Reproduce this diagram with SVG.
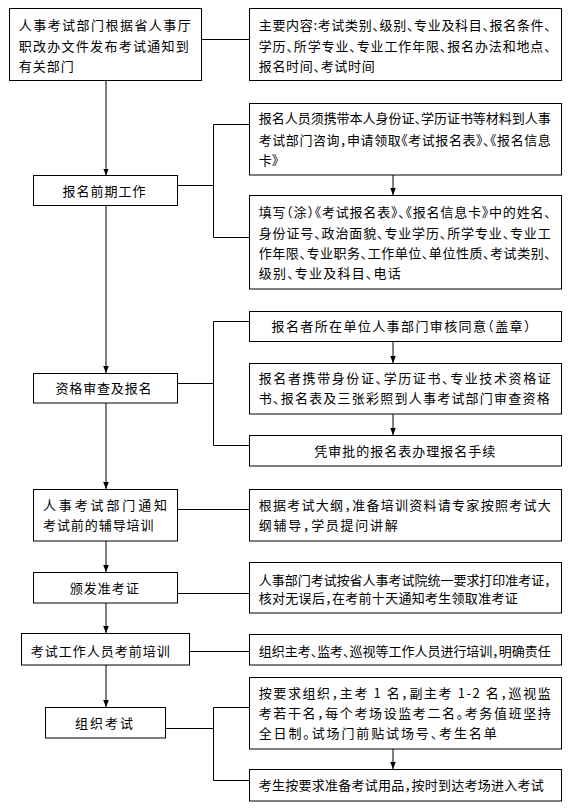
<svg xmlns="http://www.w3.org/2000/svg" width="588" height="811" viewBox="0 0 588 811">
<style>
rect.box{fill:#fff;stroke:#000;stroke-width:1}
.conn path,.conn line{fill:none;stroke:#000;stroke-width:1}
text{font-family:"Noto Sans CJK SC","Noto Sans",sans-serif;font-size:13px;fill:#000;font-feature-settings:"halt"}
</style>
<defs>
<marker id="ah" viewBox="0 0 8 8" refX="8" refY="4" markerWidth="7" markerHeight="7" markerUnits="userSpaceOnUse" orient="auto">
<path d="M0,0.8 L8,4 L0,7.2 z" fill="#000"/>
</marker>
</defs>
<rect width="588" height="811" fill="#fff"/>
<g class="conn" id="connectors">
<line x1="201.5" y1="39.5" x2="249.5" y2="39.5"/>
<line x1="106" y1="80.5" x2="106" y2="175.5" marker-end="url(#ah)"/>
<line x1="177.5" y1="185.5" x2="213.5" y2="185.5"/>
<path d="M249.5,124.5 H213.5 V237.5 H249.5"/>
<line x1="393" y1="175" x2="393" y2="195" marker-end="url(#ah)"/>
<line x1="106" y1="205.5" x2="106" y2="373" marker-end="url(#ah)"/>
<line x1="177.5" y1="383.5" x2="213.5" y2="383.5"/>
<path d="M249.5,321.5 H213.5 V445.5 H249.5"/>
<line x1="393" y1="341" x2="393" y2="363" marker-end="url(#ah)"/>
<line x1="393" y1="414" x2="393" y2="435" marker-end="url(#ah)"/>
<line x1="106" y1="403" x2="106" y2="489" marker-end="url(#ah)"/>
<line x1="177.5" y1="509.5" x2="249.5" y2="509.5"/>
<line x1="106" y1="541" x2="106" y2="572" marker-end="url(#ah)"/>
<line x1="177.5" y1="593.5" x2="249.5" y2="593.5"/>
<line x1="106" y1="603" x2="106" y2="633" marker-end="url(#ah)"/>
<line x1="189.5" y1="651.5" x2="249.5" y2="651.5"/>
<line x1="106" y1="665" x2="106" y2="707" marker-end="url(#ah)"/>
<line x1="165.5" y1="728.5" x2="213.5" y2="728.5"/>
<path d="M249.5,707.5 H213.5 V780.5 H249.5"/>
<line x1="393" y1="749" x2="393" y2="769" marker-end="url(#ah)"/>
</g>
<g id="nodeA">
<rect class="box" x="9.5" y="8.5" width="192" height="72"/>
<text x="18.75" y="30" textLength="172" lengthAdjust="spacing">人事考试部门根据省人事厅</text>
<text x="18.75" y="51" textLength="170" lengthAdjust="spacing">职改办文件发布考试通知到</text>
<text x="18.75" y="71" textLength="55" lengthAdjust="spacing">有关部门</text>
</g>
<g id="nodeB">
<rect class="box" x="249.5" y="8.5" width="312" height="72"/>
<text x="258.75" y="30" textLength="292" lengthAdjust="spacing">主要内容:考试类别、级别、专业及科目、报名条件、</text>
<text x="258.75" y="51" textLength="292" lengthAdjust="spacing">学历、所学专业、专业工作年限、报名办法和地点、</text>
<text x="258.75" y="71" textLength="116" lengthAdjust="spacing">报名时间、考试时间</text>
</g>
<g id="nodeC">
<rect class="box" x="33.5" y="175.5" width="144" height="30"/>
<text x="62.5" y="196" textLength="83" lengthAdjust="spacing">报名前期工作</text>
</g>
<g id="nodeD">
<rect class="box" x="249.5" y="103.5" width="312" height="71.5"/>
<text x="258.75" y="123" textLength="292" lengthAdjust="spacing">报名人员须携带本人身份证、学历证书等材料到人事</text>
<text x="258.75" y="144.5" textLength="292" lengthAdjust="spacing">考试部门咨询，申请领取《考试报名表》、《报名信息</text>
<text x="258.75" y="165" textLength="19.5" lengthAdjust="spacing">卡》</text>
</g>
<g id="nodeE">
<rect class="box" x="249.5" y="195.5" width="312" height="93.5"/>
<text x="258.75" y="216.5" textLength="292" lengthAdjust="spacing">填写（涂）《考试报名表》、《报名信息卡》中的姓名、</text>
<text x="258.75" y="237.5" textLength="292" lengthAdjust="spacing">身份证号、政治面貌、专业学历、所学专业、专业工</text>
<text x="258.75" y="257.5" textLength="292" lengthAdjust="spacing">作年限、专业职务、工作单位、单位性质、考试类别、</text>
<text x="258.75" y="277.5" textLength="142" lengthAdjust="spacing">级别、专业及科目、电话</text>
</g>
<g id="nodeF">
<rect class="box" x="249.5" y="311.5" width="312" height="30"/>
<text x="271.5" y="331" textLength="259" lengthAdjust="spacing">报名者所在单位人事部门审核同意（盖章）</text>
</g>
<g id="nodeG">
<rect class="box" x="249.5" y="363.5" width="312" height="50.5"/>
<text x="258.75" y="382.5" textLength="292" lengthAdjust="spacing">报名者携带身份证、学历证书、专业技术资格证</text>
<text x="258.75" y="402.5" textLength="291" lengthAdjust="spacing">书、报名表及三张彩照到人事考试部门审查资格</text>
</g>
<g id="nodeH">
<rect class="box" x="249.5" y="435.5" width="312" height="30.5"/>
<text x="314.25" y="455.5" textLength="181" lengthAdjust="spacing">凭审批的报名表办理报名手续</text>
</g>
<g id="nodeI">
<rect class="box" x="33.5" y="373.5" width="144" height="29.5"/>
<text x="55.5" y="392.5" textLength="96" lengthAdjust="spacing">资格审查及报名</text>
</g>
<g id="nodeJ">
<rect class="box" x="33.5" y="489.5" width="144" height="51.5"/>
<text x="43" y="509.5" textLength="124" lengthAdjust="spacing">人事考试部门通知</text>
<text x="43" y="529.5" textLength="110.5" lengthAdjust="spacing">考试前的辅导培训</text>
</g>
<g id="nodeK">
<rect class="box" x="249.5" y="489.5" width="312" height="51.5"/>
<text x="258.75" y="509.5" textLength="292" lengthAdjust="spacing">根据考试大纲，准备培训资料请专家按照考试大</text>
<text x="258.75" y="529.5" textLength="139" lengthAdjust="spacing">纲辅导，学员提问讲解</text>
</g>
<g id="nodeL">
<rect class="box" x="33.5" y="572.5" width="144" height="30.5"/>
<text x="69.75" y="592.5" textLength="69" lengthAdjust="spacing">颁发准考证</text>
</g>
<g id="nodeM">
<rect class="box" x="249.5" y="562.5" width="312" height="50.5"/>
<text x="258.75" y="584.5" textLength="292" lengthAdjust="spacing">人事部门考试按省人事考试院统一要求打印准考证，</text>
<text x="258.75" y="602.5" textLength="259" lengthAdjust="spacing">核对无误后，在考前十天通知考生领取准考证</text>
</g>
<g id="nodeN">
<rect class="box" x="21.5" y="633.5" width="168" height="31.5"/>
<text x="30.75" y="655.5" textLength="139" lengthAdjust="spacing">考试工作人员考前培训</text>
</g>
<g id="nodeO">
<rect class="box" x="249.5" y="634.5" width="312" height="30.5"/>
<text x="258.75" y="655.5" textLength="292" lengthAdjust="spacing">组织主考、监考、巡视等工作人员进行培训，明确责任</text>
</g>
<g id="nodeP">
<rect class="box" x="45.5" y="707.5" width="120" height="30.5"/>
<text x="75" y="727.5" textLength="58" lengthAdjust="spacing">组织考试</text>
</g>
<g id="nodeQ">
<rect class="box" x="249.5" y="677.5" width="312" height="71.5"/>
<text x="258.75" y="697.5" textLength="292" lengthAdjust="spacing">按要求组织，主考 1 名，副主考 1-2 名，巡视监</text>
<text x="258.75" y="717.5" textLength="292" lengthAdjust="spacing">考若干名，每个考场设监考二名。考务值班坚持</text>
<text x="258.75" y="737.5" textLength="238" lengthAdjust="spacing">全日制。试场门前贴试场号、考生名单</text>
</g>
<g id="nodeR">
<rect class="box" x="249.5" y="769.5" width="312" height="31.5"/>
<text x="258.75" y="789.5" textLength="285" lengthAdjust="spacing">考生按要求准备考试用品，按时到达考场进入考试</text>
</g>
</svg>
